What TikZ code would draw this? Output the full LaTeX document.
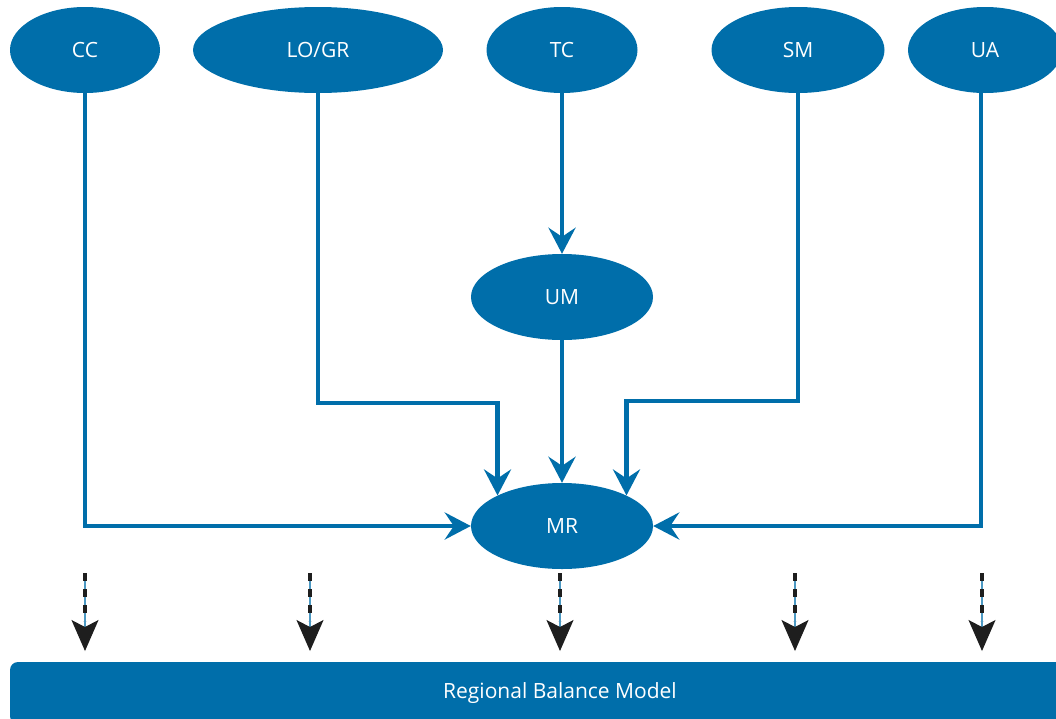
\documentclass[tikz,border=0pt]{standalone}
\usepackage{fontspec}
\setmainfont{Open Sans}
\usetikzlibrary{shapes.geometric,arrows.meta}
\definecolor{mblue}{RGB}{0,110,170}
\definecolor{mblack}{RGB}{30,30,30}
\tikzset{
  ell/.style={ellipse, fill=mblue, text=white, inner sep=0pt, minimum height=86pt, font=\fontsize{21}{24}\selectfont},
  flow/.style={draw=mblue, line width=4.8pt, -{Stealth[length=26pt,width=27pt,inset=9pt]}},
  dline/.style={draw=mblue!70, line width=1.2pt},
  dsq/.style={draw=mblack, line width=4.8pt, dash pattern=on 8pt off 8pt},
  darr/.style={draw=mblue!70, line width=1.2pt, -{Stealth[length=31pt,width=27pt,inset=7pt,color=mblack,fill=mblack]}},
}
\begin{document}
\begin{tikzpicture}[x=1pt,y=-1pt]
\useasboundingbox (0,0) rectangle (1056,718);
\node[ell, minimum width=150pt] (cc) at (85,50) {CC};
\node[ell, minimum width=250pt] (lo) at (318,50) {LO/GR};
\node[ell, minimum width=151pt] (tc) at (562,50) {TC};
\node[ell, minimum width=173pt] (sm) at (798,50) {SM};
\node[ell, minimum width=154pt] (ua) at (985,50) {UA};
\node[ell, minimum width=182pt] (um) at (562,297) {UM};
\node[ell, minimum width=182pt] (mr) at (562,526) {MR};
\node[rectangle, rounded corners=8pt, fill=mblue, minimum width=1060pt, minimum height=62pt, inner sep=0pt] (bar) at (540,693) {};
\node[text=white, font=\fontsize{21}{24}\selectfont] (barlabel) at (560,693) {Regional Balance Model};
% helper coordinates
\coordinate (y403) at (0,403);
\coordinate (y401) at (0,401);
\coordinate (x798) at (798,0);
\coordinate (uax) at (981,0);
\coordinate (lobend) at (mr.north west |- y403);
\coordinate (smbend) at (mr.north east |- y401);
% connectors
\draw[flow] (cc.south) |- (mr.west);
\draw[flow] (lo.south) |- (lobend) -- (mr.north west);
\draw[flow] (tc.south) -- (um.north);
\draw[flow] (um.south) -- (mr.north);
\draw[flow] (sm.south -| x798) |- (smbend) -- (mr.north east);
\draw[flow] (ua.south -| uax) |- (mr.east);
% dashed arrows
\foreach \n/\x in {1/85,2/310,3/560,4/795,5/982}{
  \coordinate (ds\n) at (\x,573);
  \coordinate (dm\n) at (\x,621);
  \coordinate (dh\n) at (\x,613);
  \coordinate (de\n) at (\x,651);
  \draw[dline] (ds\n) -- (dm\n);
  \draw[dsq] (ds\n) -- (dm\n);
  \draw[darr] (dh\n) -- (de\n);
}
\end{tikzpicture}
\end{document}
